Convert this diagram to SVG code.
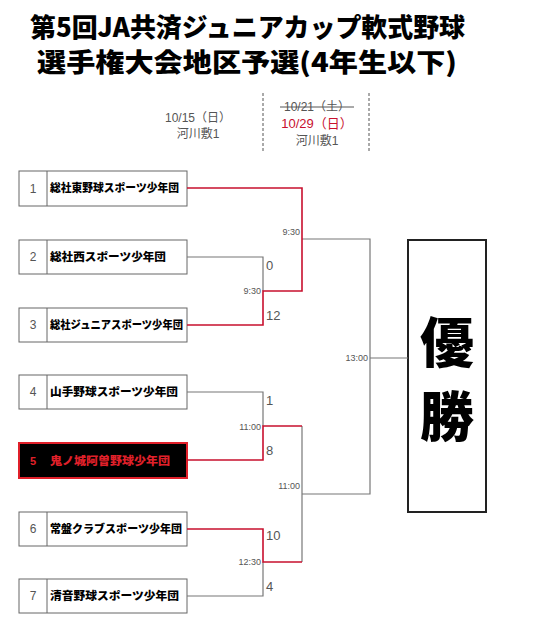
<svg xmlns="http://www.w3.org/2000/svg" width="533" height="640" viewBox="0 0 533 640">
<style>
.title{font-family:"Noto Sans CJK JP","Noto Sans CJK SC",sans-serif;font-size:26px;font-weight:900;fill:#000}
.hdr{font-family:"Liberation Sans","Noto Sans CJK JP",sans-serif;font-size:12px;fill:#555}
.box{fill:#fff;stroke:#666;stroke-width:1}
.num{font-family:"Liberation Sans",sans-serif;font-size:12px;fill:#555}
.name{font-family:"Noto Sans CJK JP",sans-serif;font-size:11px;font-weight:900;fill:#000}
.g{fill:none;stroke:#777;stroke-width:1.2}
.r{fill:none;stroke:#c8102e;stroke-width:1.6}
.time{font-family:"Liberation Sans",sans-serif;font-size:9px;fill:#555}
.score{font-family:"Liberation Sans",sans-serif;font-size:13px;fill:#555}
.win{font-family:"Noto Sans CJK JP",serif;font-size:54px;font-weight:900;fill:#000}
</style>
<rect width="533" height="640" fill="#fff"/>
<g id="title">
<text class="title" x="30" y="37" textLength="435" lengthAdjust="spacingAndGlyphs">第5回JA共済ジュニアカップ軟式野球</text>
<text class="title" x="37" y="72" textLength="420" lengthAdjust="spacingAndGlyphs">選手権大会地区予選(4年生以下)</text>
</g>
<g id="header">
<text class="hdr" x="198" y="122" text-anchor="middle">10/15（日）</text>
<text class="hdr" x="198" y="138" text-anchor="middle">河川敷1</text>
<line x1="263" y1="93" x2="263" y2="153" stroke="#555" stroke-width="1" stroke-dasharray="3,2"/>
<line x1="369" y1="93" x2="369" y2="153" stroke="#555" stroke-width="1" stroke-dasharray="3,2"/>
<text class="hdr" x="317" y="111" text-anchor="middle">10/21（土）</text>
<line x1="280" y1="107" x2="354" y2="107" stroke="#555" stroke-width="1"/>
<text class="hdr" x="317" y="128" text-anchor="middle" style="fill:#c8102e;font-size:13px">10/29（日）</text>
<text class="hdr" x="317" y="145" text-anchor="middle">河川敷1</text>
</g>
<g id="team1"><rect class="box" x="19" y="171" width="168" height="35"/><line x1="47" y1="171" x2="47" y2="206" stroke="#666"/><text class="num" x="33" y="193" text-anchor="middle">1</text><text class="name" x="50" y="192" textLength="129" lengthAdjust="spacingAndGlyphs">総社東野球スポーツ少年団</text></g>
<g id="team2"><rect class="box" x="19" y="240" width="168" height="34"/><line x1="47" y1="240" x2="47" y2="274" stroke="#666"/><text class="num" x="33" y="261" text-anchor="middle">2</text><text class="name" x="50" y="261" textLength="116" lengthAdjust="spacingAndGlyphs">総社西スポーツ少年団</text></g>
<g id="team3"><rect class="box" x="19" y="308" width="168" height="34"/><line x1="47" y1="308" x2="47" y2="342" stroke="#666"/><text class="num" x="33" y="329" text-anchor="middle">3</text><text class="name" x="50" y="329" textLength="133" lengthAdjust="spacingAndGlyphs">総社ジュニアスポーツ少年団</text></g>
<g id="team4"><rect class="box" x="19" y="375" width="168" height="34"/><line x1="47" y1="375" x2="47" y2="409" stroke="#666"/><text class="num" x="33" y="396" text-anchor="middle">4</text><text class="name" x="50" y="396" textLength="128" lengthAdjust="spacingAndGlyphs">山手野球スポーツ少年団</text></g>
<g id="team5"><rect x="19" y="443" width="168" height="35" fill="#000" stroke="#e0202a" stroke-width="2"/><text class="num" x="33" y="465" text-anchor="middle" style="fill:#e0202a;font-weight:bold;font-size:11px">5</text><text class="name" x="50" y="465" textLength="120" lengthAdjust="spacingAndGlyphs" style="fill:#e0202a">鬼ノ城阿曽野球少年団</text></g>
<g id="team6"><rect class="box" x="19" y="512" width="168" height="34"/><line x1="47" y1="512" x2="47" y2="546" stroke="#666"/><text class="num" x="33" y="533" text-anchor="middle">6</text><text class="name" x="50" y="533" textLength="132" lengthAdjust="spacingAndGlyphs">常盤クラブスポーツ少年団</text></g>
<g id="team7"><rect class="box" x="19" y="579" width="168" height="34"/><line x1="47" y1="579" x2="47" y2="613" stroke="#666"/><text class="num" x="33" y="600" text-anchor="middle">7</text><text class="name" x="50" y="600" textLength="129" lengthAdjust="spacingAndGlyphs">清音野球スポーツ少年団</text></g>
<g id="winner"><rect x="408" y="240" width="78" height="272" fill="#fff" stroke="#222" stroke-width="2"/><text class="win" x="447" y="363" text-anchor="middle">優</text><text class="win" x="447" y="437" text-anchor="middle">勝</text></g>
<g id="connectors">
<polyline class="g" points="187,257 263,257 263,291"/>
<polyline class="g" points="302,239 370,239 370,494 302,494"/>
<line class="g" x1="370" y1="358" x2="408" y2="358"/>
<polyline class="g" points="187,392 263,392 263,426"/>
<line class="g" x1="302" y1="426" x2="302" y2="562"/>
<polyline class="g" points="187,596 263,596 263,562"/>
<polyline class="r" points="187,188 302,188 302,291 263,291 263,325 187,325"/>
<polyline class="r" points="302,426 263,426 263,460 187,460"/>
<polyline class="r" points="187,529 263,529 263,562 302,562"/>
</g>
<g id="labels">
<text class="time" x="300" y="235" text-anchor="end">9:30</text>
<text class="time" x="261" y="294" text-anchor="end">9:30</text>
<text class="score" x="266" y="270">0</text>
<text class="score" x="266" y="320">12</text>
<text class="score" x="266" y="405">1</text>
<text class="time" x="261" y="430" text-anchor="end">11:00</text>
<text class="score" x="266" y="455">8</text>
<text class="time" x="300" y="489" text-anchor="end">11:00</text>
<text class="score" x="266" y="540">10</text>
<text class="time" x="261" y="565" text-anchor="end">12:30</text>
<text class="score" x="266" y="591">4</text>
<text class="time" x="368" y="361" text-anchor="end">13:00</text>
</g>
</svg>
